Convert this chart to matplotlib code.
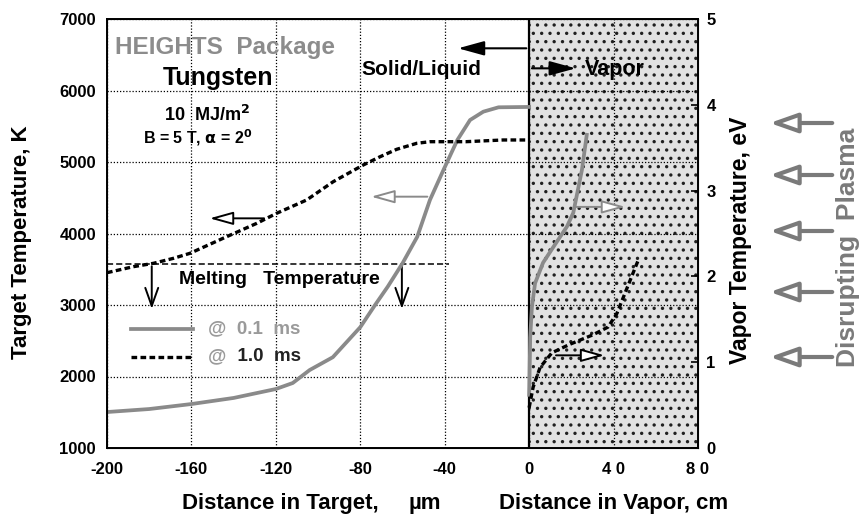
import matplotlib.pyplot as plt

plt.rcParams['font.family'] = ['Liberation Sans', 'DejaVu Sans']
plt.rcParams['font.weight'] = 'bold'
plt.rcParams['hatch.linewidth'] = 1.2

# target side: distance in um, temperature in K
x_t01 = [-200, -180, -160, -140, -120, -112, -104, -93, -80, -73, -67, -60, -53, -47, -40.6, -34, -28, -21.7, -14.5, 0]
T_t01 = [1503, 1545, 1615, 1700, 1825, 1909, 2090, 2270, 2690, 3000, 3256, 3583, 3955, 4469, 4888, 5308, 5587, 5704, 5765, 5770]
x_t10 = [-200, -187.5, -178, -168.5, -160.7, -145, -129, -119.6, -105.4, -92.8, -78.6, -70.6, -62.7, -53.2, -46.9, -30, -12.3, 0]
T_t10 = [3452, 3536, 3583, 3653, 3723, 3933, 4143, 4283, 4469, 4725, 4958, 5074, 5178, 5262, 5284, 5284, 5308, 5308]

# vapor side: distance in cm, temperature in eV
x_v01 = [0, 0.1, 0.5, 1.3, 2.8, 6.6, 11.4, 17.9, 20.9, 25, 27.3]
E_v01 = [0.62, 0.71, 1.29, 1.64, 1.92, 2.16, 2.34, 2.58, 2.74, 3.24, 3.65]
x_v10 = [0, 1.9, 5.2, 10.8, 19.4, 30.3, 37.4, 41.6, 45.5, 51.7]
E_v10 = [0.47, 0.71, 0.94, 1.11, 1.21, 1.32, 1.41, 1.57, 1.81, 2.19]

T_melt = 3580
x_ticks = [-200, -160, -120, -80, -40, 0, 40, 80]
x_labels = ['-200', '-160', '-120', '-80', '-40', '0', '4 0', '8 0']
y_ticks = [1000, 2000, 3000, 4000, 5000, 6000, 7000]
ev_ticks = [0, 1, 2, 3, 4, 5]

GRAY = '#8a8a8a'
W, H = 868, 514

fig = plt.figure(figsize=(W / 100, H / 100), dpi=100)
ax = fig.add_axes([107 / W, 1 - 448 / H, 591 / W, 429 / H])
ax.set_xlim(-200, 80)
ax.set_ylim(1000, 7000)
ax.set_xticks(x_ticks)
ax.set_xticklabels(x_labels)
ax.set_yticks(y_ticks)
ax.tick_params(axis='both', length=0, labelsize=12)
ax.tick_params(axis='x', pad=10)
ax.tick_params(axis='y', pad=8)
ax.grid(True, color='black', linestyle=(0, (1, 1.5)), linewidth=0.9)
for s in ax.spines.values():
    s.set_linewidth(1.4)

# vapor region
ax.axvspan(0, 80, facecolor='#e2e2e2', edgecolor='#202020', hatch='..', linewidth=0, zorder=0.8)
ax.axvline(0, color='black', lw=1.6, zorder=3)

ax.plot(x_t01, T_t01, color=GRAY, lw=2.7, zorder=4)
ax.plot(x_t10, T_t10, color='black', lw=2.4, dashes=(1.7, 1), dash_capstyle='butt', zorder=4)
ax.plot([-200, -38], [T_melt, T_melt], color='black', lw=1.1, dashes=(4, 2), zorder=3)

# legend drawn by hand
ax.plot([-188.4, -159.1], [2664, 2664], color=GRAY, lw=2.7)
ax.plot([-188.4, -159.1], [2277, 2277], color='black', lw=2.4, dashes=(1.7, 1))
ax.text(-152, 2664, '@  0.1  ms', color='#9a9a9a', fontsize=13.5, va='center')
ax.text(-152, 2277, '@', color='#9a9a9a', fontsize=13.5, va='center')
ax.text(-143, 2277, '  1.0  ms', color='#222222', fontsize=13.5, va='center')

ax.text(-196, 6608, 'HEIGHTS  Package', color='#8c8c8c', fontsize=17.5, va='center')
ax.text(-147.4, 6175, 'Tungsten', fontsize=18, ha='center', va='center')
ax.text(-152.7, 5657, r'10  MJ/m$^\mathbf{2}$', fontsize=13, ha='center', va='center')
ax.text(-156.9, 5336, r'B = 5 T, $\mathbf{\alpha}$ = 2$^\mathbf{0}$', fontsize=11.5, ha='center', va='center')
ax.text(-118.2, 3360, 'Melting   Temperature', fontsize=14, ha='center', va='center')
ax.text(-51, 6300, 'Solid/Liquid', fontsize=15, ha='center', va='center')
ax.text(26.5, 6300, 'Vapor', fontsize=15.5, ha='left', va='center', zorder=5)

filled = dict(arrowstyle='-|>,head_length=0.8,head_width=0.22', color='black', lw=1.5)
ax.annotate('', xy=(-35, 6590), xytext=(0, 6590), arrowprops=dict(filled, mutation_scale=20))
ax.annotate('', xy=(23.4, 6310), xytext=(0, 6310), arrowprops=dict(filled, mutation_scale=20))

def open_arrow(color):
    return dict(arrowstyle='-|>,head_length=0.72,head_width=0.2', mutation_scale=20,
                fc='white', ec=color, lw=1.4)

ax.annotate('', xy=(-152.7, 4212), xytext=(-124.3, 4212), arrowprops=open_arrow('black'))
ax.annotate('', xy=(-76.2, 4515), xytext=(-46.9, 4515), arrowprops=open_arrow(GRAY))

down = dict(arrowstyle='->,head_length=0.87,head_width=0.31', mutation_scale=15, color='black', lw=1.4)
ax.annotate('', xy=(-178.8, 2907), xytext=(-178.8, T_melt), arrowprops=down)
ax.annotate('', xy=(-60.3, 2907), xytext=(-60.3, T_melt), arrowprops=down)

ax2 = ax.twinx()
ax2.set_ylim(0, 5)
ax2.set_yticks(ev_ticks)
ax2.tick_params(axis='y', direction='in', length=5, width=1.2, labelsize=12, pad=6)
ax2.plot(x_v01, E_v01, color=GRAY, lw=2.7)
ax2.plot(x_v10, E_v10, color='black', lw=2.4, dashes=(1.7, 1), dash_capstyle='butt')
ax2.annotate('', xy=(46.9, 2.81), xytext=(20.9, 2.81), arrowprops=open_arrow(GRAY))
ax2.annotate('', xy=(37, 1.08), xytext=(11.4, 1.08), arrowprops=open_arrow('black'))

# axis titles
fig.text(22 / W, 1 - 242 / H, 'Target Temperature, K', rotation=90, fontsize=16, ha='center', va='center')
fig.text(741 / W, 1 - 240 / H, 'Vapor Temperature, eV', rotation=90, fontsize=16.5, ha='center', va='center')
fig.text(280 / W, 1 - 509 / H, 'Distance in Target,', fontsize=16, ha='center', va='baseline')
fig.text(425 / W, 1 - 509 / H, 'µm', fontsize=16, ha='center', va='baseline')
fig.text(614 / W, 1 - 509 / H, 'Distance in Vapor, cm', fontsize=16, ha='center', va='baseline')

# incoming plasma
fig.text(848 / W, 1 - 247 / H, 'Disrupting  Plasma', rotation=90, fontsize=19, color='#7a7a7a',
         ha='center', va='center')
plasma = dict(arrowstyle='-|>,head_length=0.85,head_width=0.3', mutation_scale=20,
              fc='white', ec='#7a7a7a', lw=3)
for py in [123, 175, 231, 292, 357]:
    ax.annotate('', xy=(767 / W, 1 - py / H), xytext=(835 / W, 1 - py / H),
                xycoords='figure fraction', textcoords='figure fraction',
                arrowprops=plasma, annotation_clip=False)

fig.savefig('out.png', dpi=100)
